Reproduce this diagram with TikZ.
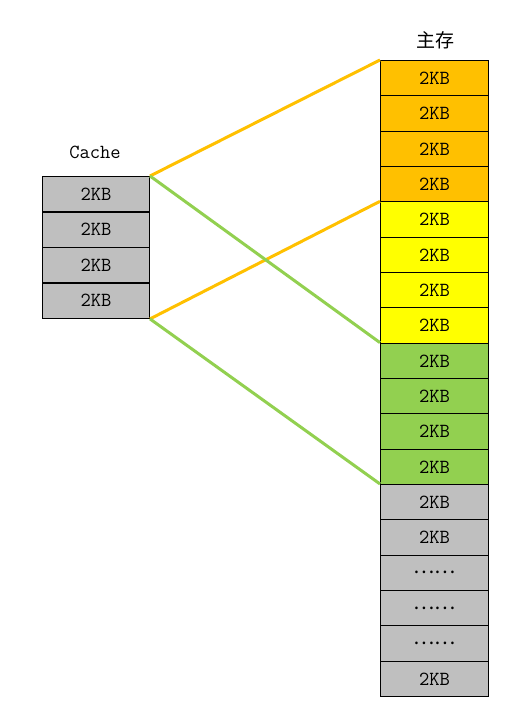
\documentclass[tikz,border=0pt]{standalone}
\usepackage{fontspec}
\newfontfamily\cjk{Noto Sans CJK SC}
\definecolor{cellorange}{HTML}{FFC000}
\definecolor{cellyellow}{HTML}{FFFF00}
\definecolor{cellgreen}{HTML}{92D050}
\definecolor{cellgray}{HTML}{BFBFBF}
\tikzset{
  cell/.style={draw=black, line width=1pt, anchor=north west, inner sep=0pt,
    minimum height=35.4pt, font={\ttfamily\fontsize{20}{20}\selectfont}},
  cachecell/.style={cell, fill=cellgray, minimum width=107pt},
  memcell/.style={cell, minimum width=108pt},
  link/.style={line width=3pt}
}
\begin{document}
\begin{tikzpicture}[x=1pt, y=-1pt]

\useasboundingbox (0,0) rectangle (511,707);

% cache
\node [font={\ttfamily\fontsize{20}{20}\selectfont}] (cachelabel) at (95,152) {Cache};
\foreach \i in {1,...,4} {
  \node [cachecell] (c\i) at (42, {176+(\i-1)*35.5}) {2KB};
}

% main memory
\node [font={\cjk\fontsize{19}{19}\selectfont}] (memlabel) at (435,40) {主存};
\foreach \i/\col/\txt in {1/cellorange/2KB, 2/cellorange/2KB, 3/cellorange/2KB, 4/cellorange/2KB,
  5/cellyellow/2KB, 6/cellyellow/2KB, 7/cellyellow/2KB, 8/cellyellow/2KB,
  9/cellgreen/2KB, 10/cellgreen/2KB, 11/cellgreen/2KB, 12/cellgreen/2KB,
  13/cellgray/2KB, 14/cellgray/2KB, 15/cellgray/{{\cjk ……}}, 16/cellgray/{{\cjk ……}},
  17/cellgray/{{\cjk ……}}, 18/cellgray/2KB} {
  \node [memcell, fill=\col] (m\i) at (380, {60+(\i-1)*35.33}) {\txt};
}

% mapping
\draw [link, cellorange] (c1.north east) -- (m1.north west);
\draw [link, cellorange] (c4.south east) -- (m5.north west);
\draw [link, cellgreen] (c1.north east) -- (m9.north west);
\draw [link, cellgreen] (c4.south east) -- (m13.north west);

\end{tikzpicture}
\end{document}
